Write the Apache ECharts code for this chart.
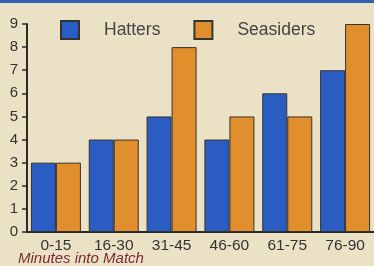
<!DOCTYPE html>
<html><head><meta charset="utf-8">
<script src="https://cdn.jsdelivr.net/npm/echarts@6/dist/echarts.min.js"></script>
<style>html,body{margin:0;padding:0;background:#ebe1c5;}#c{width:374px;height:266px;}</style>
</head><body><div id="c"></div>
<script>
const categories = ['0-15','16-30','31-45','46-60','61-75','76-90'];
const hatters = [3,4,5,4,6,7];
const seasiders = [3,4,8,5,5,9];
const yTicks = [0,1,2,3,4,5,6,7,8,9];

const chart = echarts.init(document.getElementById('c'));
chart.setOption({
  backgroundColor: '#ebe1c5',
  animation: false,
  graphic: [{type:'rect', shape:{x:0,y:0,width:374,height:3}, style:{fill:'#3460b4'}}],
  title: {text:'Minutes into Match', left: 18, top: 251, padding: 0,
    textStyle:{fontFamily:'Liberation Sans', fontStyle:'italic', fontWeight:'normal', fontSize:15, color:'#7a2838'}},
  legend: {left: 60, top: 20, padding: 0, itemWidth: 18, itemHeight: 18, itemGap: 33, icon: 'rect',
    textStyle:{fontFamily:'Liberation Sans', fontSize:17.5, color:'#444', padding:[0,0,0,20]},
    data:['Hatters','Seasiders']},
  grid: {left: 27, right: -6, top: 24, bottom: 34, containLabel: false},
  xAxis: {type:'category', data: categories,
    axisLine:{lineStyle:{color:'#2a2a2a', width:2}},
    axisTick:{length:5, lineStyle:{color:'#2a2a2a', width:1.5}},
    axisLabel:{fontFamily:'Liberation Sans', fontSize:15.5, color:'#333', margin:6}},
  yAxis: {type:'value', min:0, max:9, interval:1,
    splitLine:{show:false},
    axisLine:{show:true, lineStyle:{color:'#2a2a2a', width:2}},
    axisTick:{show:true, length:5, lineStyle:{color:'#2a2a2a', width:1.5}},
    axisLabel:{fontFamily:'Liberation Sans', fontSize:15, color:'#333', margin:9,
      formatter: v => yTicks.includes(v) ? String(v) : ''}},
  series: [
    {name:'Hatters', type:'bar', data: hatters, barWidth: 25, barGap: '0%',
      itemStyle:{color:'#2b5cc2', borderColor:'#333', borderWidth:1}},
    {name:'Seasiders', type:'bar', data: seasiders, barWidth: 25, barGap: '0%',
      itemStyle:{color:'#e08f2c', borderColor:'#333', borderWidth:1}}
  ]
});
</script></body></html>
